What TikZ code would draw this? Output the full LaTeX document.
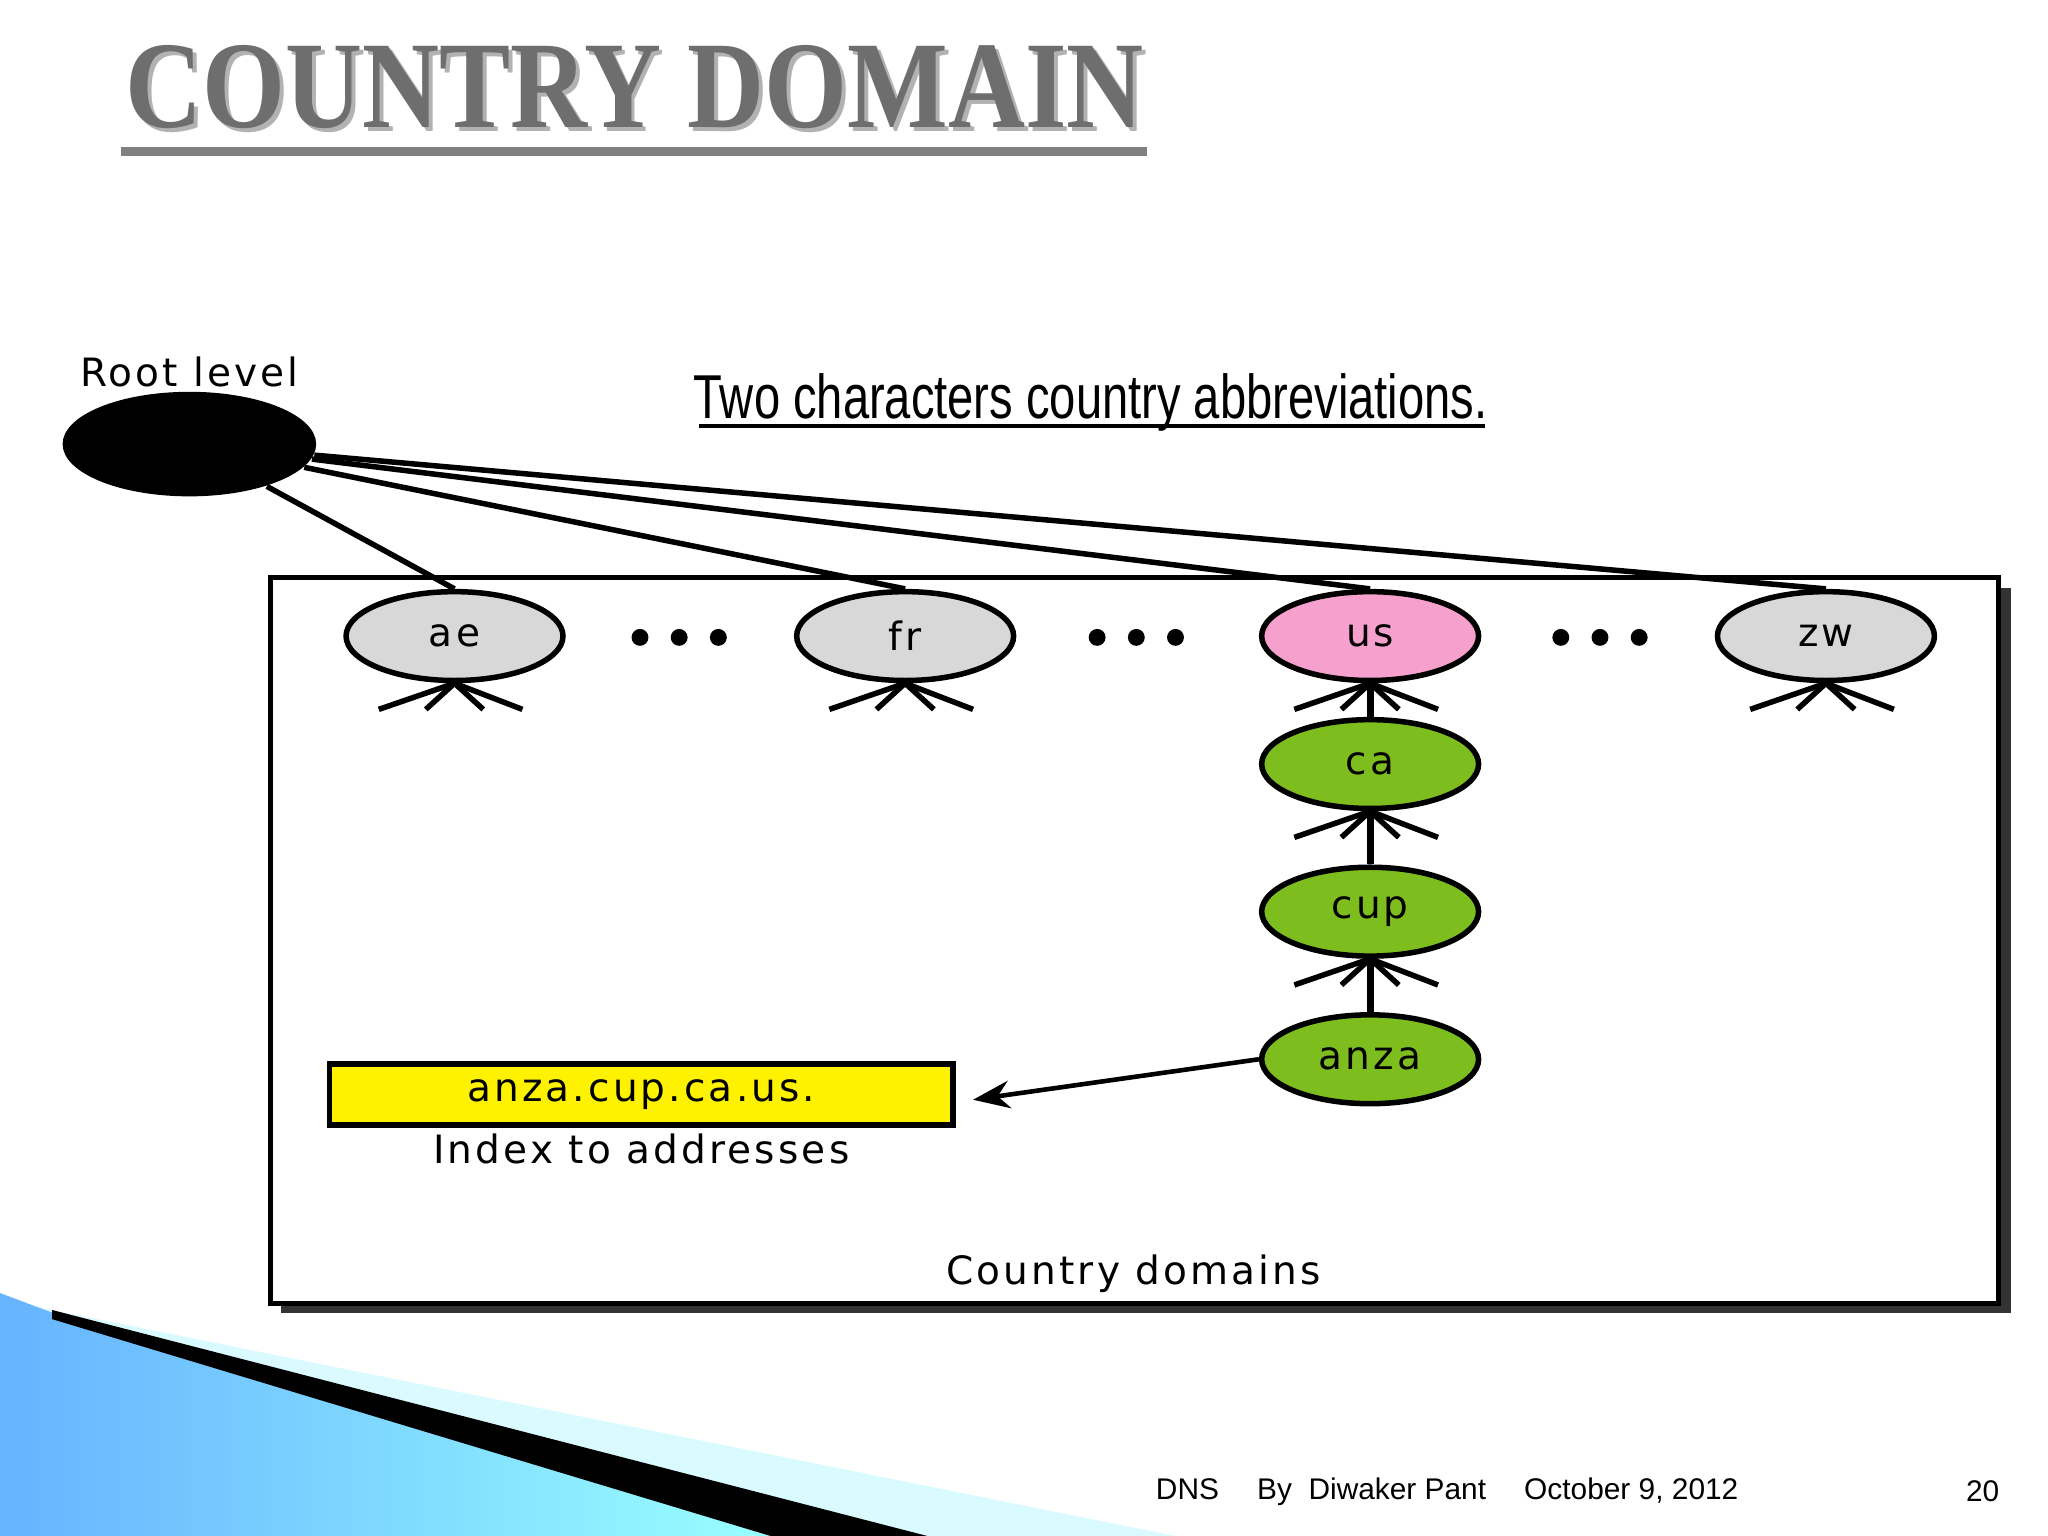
\documentclass[tikz,border=0pt]{standalone}
\usepackage{fontspec}
\setmainfont{DejaVu Sans}[LetterSpace=8]
\newfontfamily\titlefont{Liberation Serif}
\newfontfamily\subfont{Liberation Sans}
\usetikzlibrary{arrows.meta,shapes.geometric}
\definecolor{nodegray}{RGB}{216,216,216}
\definecolor{pinkn}{RGB}{246,160,206}
\definecolor{greenn}{RGB}{125,190,30}
\definecolor{titlegray}{RGB}{110,110,110}
\begin{document}
\begin{tikzpicture}[x=0.01cm,y=-0.01cm,
 dom/.style={ellipse,draw,line width=1.2pt,minimum width=1.66cm,minimum height=0.68cm,font=\fontsize{8.5}{9}\selectfont},
 lbl/.style={font=\fontsize{8.5}{9}\selectfont},
 dotf/.style={fill,circle,inner sep=1.3pt}]
\useasboundingbox (0,0) rectangle (1568,1176);
% swoosh
\fill[blue!10!cyan!15] (0,995) -- (900,1176) -- (0,1176) -- cycle;
\shade[left color=cyan!50!blue!60, right color=cyan!40] (0,990) -- (40,1005) -- (590,1176) -- (0,1176) -- cycle;
\fill[black] (40,1003) -- (710,1176) -- (590,1176) -- (40,1010) -- cycle;
% title
\node[text=gray!60, xscale=0.86, font=\titlefont\bfseries\fontsize{27}{30}\selectfont] at (489,70) {COUNTRY DOMAIN};
\node[text=titlegray, xscale=0.86, font=\titlefont\bfseries\fontsize{27}{30}\selectfont] (title) at (486,67) {COUNTRY DOMAIN};
\draw[gray, line width=2pt] (93,116) -- (878,116);
% subtitle
\node[xscale=0.76, font=\subfont\fontsize{13.5}{15}\selectfont] (sub) at (835,308) {Two characters country abbreviations.};
\draw[line width=0.8pt] (535,326) -- (1137,326);
% box
\fill[black!80] (215,450) rectangle (1540,1005);
\draw[fill=white, line width=1.2pt] (207,442) rectangle (1530,998);
% root
\node[lbl] (rl) at (145,285) {Root level};
\node[ellipse, fill=black, minimum width=1.94cm, minimum height=0.8cm] (root) at (145,340) {};
% nodes
\node[dom, fill=nodegray] (ae) at (348,487) {ae};
\node[dom, fill=nodegray] (fr) at (693,487) {fr};
\node[dom, fill=pinkn] (us) at (1049,487) {us};
\node[dom, fill=nodegray] (zw) at (1398,487) {zw};
\node[dom, fill=greenn] (ca) at (1049,585) {ca};
\node[dom, fill=greenn] (cup) at (1049,698) {cup};
\node[dom, fill=greenn] (anza) at (1049,811) {anza};
\foreach \x in {490,520,550,840,870,900,1195,1225,1255} \node[dotf] at (\x,488) {};
% root connectors
\draw[line width=1.2pt] (root) -- (ae.north);
\draw[line width=1.2pt] (root) -- (fr.north);
\draw[line width=1.2pt] (root) -- (us.north);
\draw[line width=1.2pt] (root) -- (zw.north);
% crow feet
\foreach \n in {ae,fr,us,zw,ca,cup}{
 \draw[line width=1.2pt] ([shift={(-58,20)}]\n.south) -- (\n.south) -- ([shift={(52,20)}]\n.south);
 \draw[line width=1.2pt] ([shift={(-22,20)}]\n.south) -- (\n.south) -- ([shift={(22,20)}]\n.south);
}
\draw[line width=1.5pt] (ca.north) -- (us.south);
\draw[line width=1.5pt] (cup.north) -- (ca.south);
\draw[line width=1.5pt] (anza.north) -- (cup.south);
% address
\node[draw, line width=1.2pt, fill=yellow, minimum width=4.77cm, minimum height=0.42cm, lbl] (addr) at (491,838) {anza.cup.ca.us.};
\node[lbl] (idx) at (491,880) {Index to addresses};
\coordinate (tip) at (745,842);
\draw[line width=1pt, -{Stealth[length=8pt,width=6pt]}] (anza.west) -- (tip);
\node[lbl] (cd) at (868,975) {Country domains};
% footer
\node[font=\subfont\fontsize{6.5}{8}\selectfont] (foot) at (1108,1142) {DNS\quad\ By\ \ Diwaker Pant\quad\ October 9, 2012};
\node[font=\subfont\fontsize{6.5}{8}\selectfont] (pg) at (1518,1142) {20};
\end{tikzpicture}
\end{document}
